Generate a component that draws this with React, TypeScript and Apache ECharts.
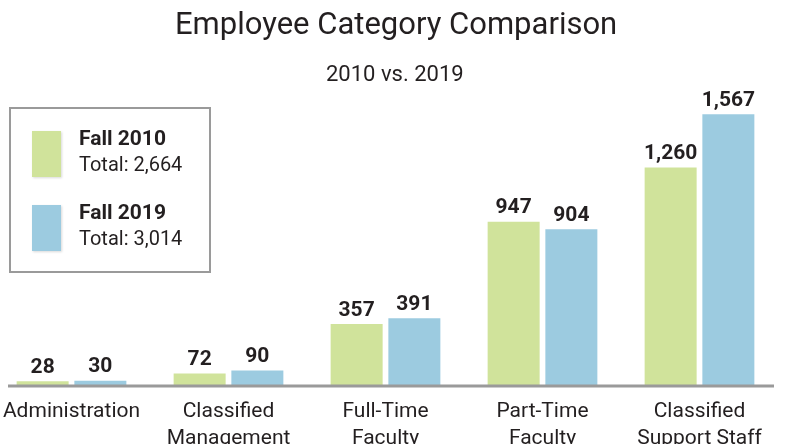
import React, { useEffect, useRef } from "react";
import * as echarts from "echarts";

const categories = ["Administration", "Classified\nManagement", "Full-Time\nFaculty", "Part-Time\nFaculty", "Classified\nSupport Staff"];
const fall2010 = [28, 72, 357, 947, 1260];
const fall2019 = [30, 90, 391, 904, 1567];
const seriesNames = ["Fall 2010", "Fall 2019"];
const totals = ["Total: 2,664", "Total: 3,014"];
const colors = ["#d0e39b", "#9ccbe0"];

const FONT = "Roboto, 'Noto Sans', sans-serif";
const DARK = "#231f20";

export default function App() {
  const ref = useRef<HTMLDivElement>(null);
  useEffect(() => {
    if (!ref.current) return;
    const chart = echarts.init(ref.current, undefined, { renderer: "svg" });
    const fmt = (p: any) => Number(p.value).toLocaleString("en-US");
    const legendGraphics: any[] = [
      {
        type: "rect",
        shape: { x: 10, y: 108, width: 200, height: 164 },
        style: { fill: "#fff", stroke: "#9a9a9a", lineWidth: 2 },
        z: 10,
      },
    ];
    seriesNames.forEach((n, i) => {
      const y0 = 131 + i * 74;
      legendGraphics.push({
        type: "rect",
        shape: { x: 32, y: y0, width: 29, height: 46 },
        style: { fill: colors[i], shadowBlur: 2, shadowColor: "rgba(0,0,0,0.15)", shadowOffsetX: 1, shadowOffsetY: 1 },
        z: 11,
      });
      legendGraphics.push({
        type: "text",
        x: 79,
        y: y0 + 7,
        style: { text: n, font: `bold 21px ${FONT}`, fill: DARK, textVerticalAlign: "middle" },
        z: 11,
      });
      legendGraphics.push({
        type: "text",
        x: 79,
        y: y0 + 33,
        style: { text: totals[i], font: `20px ${FONT}`, fill: DARK, textVerticalAlign: "middle" },
        z: 11,
      });
    });
    legendGraphics.push({
      type: "line",
      shape: { x1: 8, y1: 386, x2: 774, y2: 386 },
      style: { stroke: "#9a9a9a", lineWidth: 3 },
      z: 5,
    });
    chart.setOption({
      animation: false,
      title: [
        {
          text: "Employee Category Comparison",
          left: 175,
          top: 8,
          padding: 0,
          textStyle: { fontFamily: FONT, fontSize: 31, fontWeight: "normal", color: DARK },
        },
        {
          text: "2010 vs. 2019",
          left: 326,
          top: 62,
          padding: 0,
          textStyle: { fontFamily: FONT, fontSize: 22, fontWeight: "normal", color: DARK },
        },
      ],
      grid: { left: -7, right: 29, top: 39, bottom: 444 - 386, outerBoundsMode: "none", containLabel: false },
      xAxis: {
        type: "category",
        data: categories,
        axisLine: { show: false },
        axisTick: { show: false },
        axisLabel: {
          interval: 0,
          margin: 10,
          fontFamily: FONT,
          fontSize: 21,
          color: DARK,
          lineHeight: 27,
        },
      },
      yAxis: {
        type: "value",
        min: 0,
        max: 2000,
        show: false,
        splitLine: { show: false },
      },
      series: [fall2010, fall2019].map((d, i) => ({
        type: "bar",
        name: seriesNames[i],
        data: d,
        barWidth: 52,
        barGap: "11%",
        itemStyle: { color: colors[i] },
        label: {
          show: true,
          position: "top",
          distance: 5,
          formatter: fmt,
          fontFamily: FONT,
          fontSize: 21,
          fontWeight: "bold",
          color: DARK,
        },
      })),
      graphic: legendGraphics,
    });
    return () => chart.dispose();
  }, []);
  return <div ref={ref} style={{ position: "fixed", left: 0, top: 0, width: 807, height: 444 }} />;
}
